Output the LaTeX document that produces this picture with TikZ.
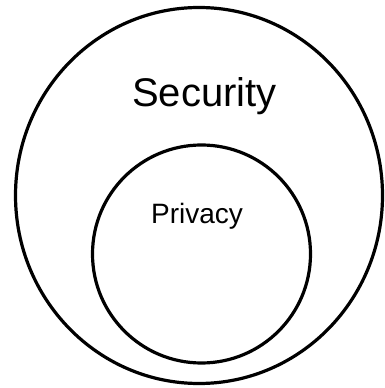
\documentclass[tikz,border=0pt]{standalone}
\usepackage{fontspec}
\setmainfont{Liberation Sans}
\begin{document}
\begin{tikzpicture}[x=1pt,y=1pt,
  ring/.style={draw=black,line width=3.2pt},
  lbl/.style={inner sep=0pt,anchor=base}]
\useasboundingbox (0,0) rectangle (384,388);
\draw[ring] (199,192.5) ellipse [x radius=183.5, y radius=188];
\draw[ring] (201.5,134) circle [radius=109];
\node[lbl,font=\fontsize{40}{44}\selectfont] (sec) at (204.5,281) {Security};
\node[lbl,font=\fontsize{28}{32}\selectfont] (priv) at (197,164) {Privacy};
\end{tikzpicture}
\end{document}
